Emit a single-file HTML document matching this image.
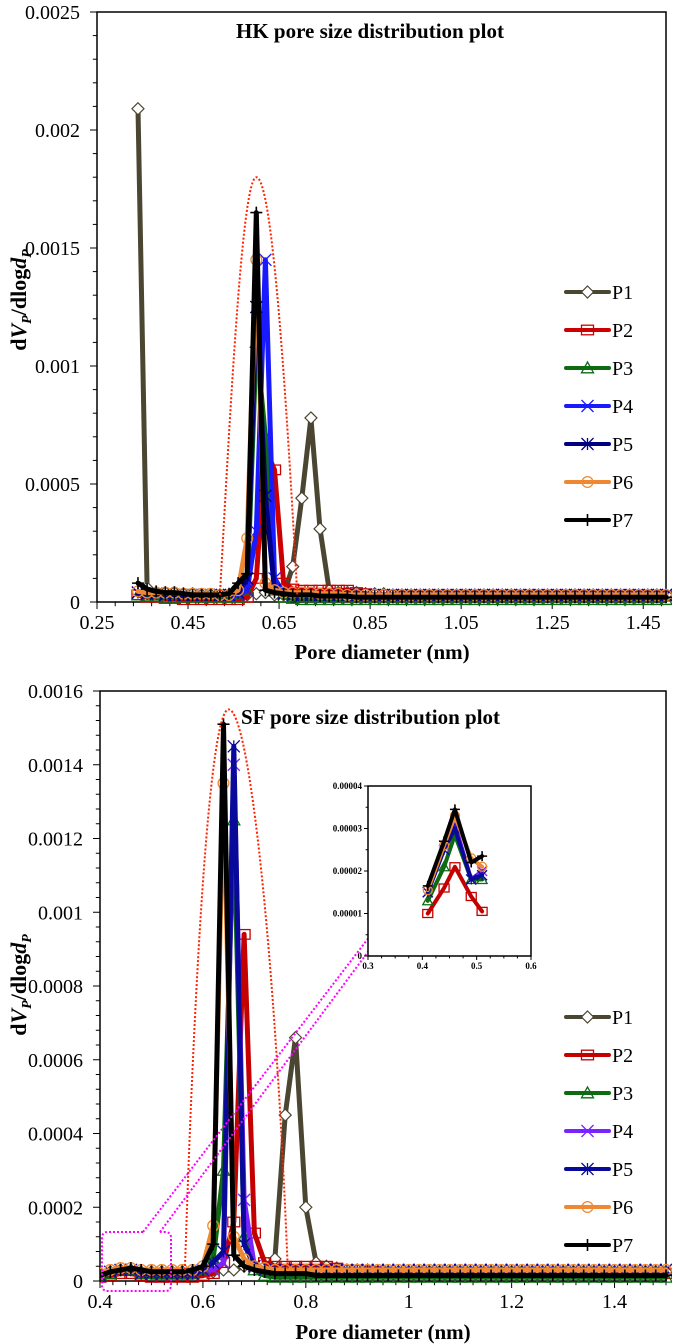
<!DOCTYPE html>
<html><head><meta charset="utf-8">
<style>
html,body{margin:0;padding:0;background:#fff;}
svg{display:block;font-family:"Liberation Serif",serif;}
</style></head>
<body>
<svg id="fig" width="675" height="1344" viewBox="0 0 675 1344" xmlns="http://www.w3.org/2000/svg"></svg>
<script>
// ===== Top chart (HK) data, y values in units of 1e-4 =====
const hkX = [0.34,0.36,0.38,0.40,0.42,0.44,0.46,0.48,0.50,0.52,0.54,0.56,0.58,0.60,0.62,0.64,0.66,0.68,0.70,0.72,0.74,0.76,0.78,0.80,0.82,0.84,0.86,0.88,0.90,0.92,0.94,0.96,0.98,1.00,1.02,1.04,1.06,1.08,1.10,1.12,1.14,1.16,1.18,1.20,1.22,1.24,1.26,1.28,1.30,1.32,1.34,1.36,1.38,1.40,1.42,1.44,1.46,1.48,1.50];
const hkP1 = [20.9,0.6,0.4,0.4,0.4,0.35,0.35,0.3,0.3,0.3,0.3,0.3,0.3,0.35,0.4,0.3,0.3,1.5,4.4,7.8,3.1,0.5,0.4,0.4,0.4,0.35,0.35,0.35,0.3,0.3,0.3,0.3,0.3,0.3,0.3,0.3,0.3,0.3,0.3,0.3,0.3,0.3,0.3,0.3,0.3,0.3,0.3,0.3,0.3,0.3,0.3,0.3,0.3,0.3,0.3,0.3,0.3,0.3,0.3];
const hkP2 = [0.3,0.2,0.2,0.15,0.15,0.1,0.1,0.1,0.1,0.1,0.1,0.1,0.2,1.0,6.5,5.6,0.8,0.55,0.5,0.5,0.5,0.5,0.5,0.5,0.4,0.35,0.3,0.3,0.3,0.25,0.25,0.25,0.25,0.25,0.25,0.25,0.25,0.25,0.25,0.25,0.25,0.25,0.25,0.25,0.25,0.25,0.25,0.25,0.25,0.25,0.25,0.25,0.25,0.25,0.25,0.25,0.25,0.25,0.25];
const hkP3 = [0.3,0.25,0.25,0.2,0.2,0.2,0.2,0.2,0.2,0.2,0.2,0.2,0.5,11.0,7.0,0.5,0.2,0.15,0.1,0.1,0.1,0.1,0.1,0.1,0.1,0.1,0.1,0.1,0.1,0.1,0.1,0.1,0.1,0.1,0.1,0.1,0.1,0.1,0.1,0.1,0.1,0.1,0.1,0.1,0.1,0.1,0.1,0.1,0.1,0.1,0.1,0.1,0.1,0.1,0.1,0.1,0.1,0.1,0.1];
const hkP4 = [0.4,0.35,0.35,0.3,0.3,0.3,0.3,0.3,0.3,0.3,0.3,0.3,0.5,3.0,14.5,1.0,0.4,0.3,0.3,0.3,0.3,0.3,0.3,0.3,0.3,0.3,0.3,0.3,0.3,0.3,0.3,0.3,0.3,0.3,0.3,0.3,0.3,0.3,0.3,0.3,0.3,0.3,0.3,0.3,0.3,0.3,0.3,0.3,0.3,0.3,0.3,0.3,0.3,0.3,0.3,0.3,0.3,0.3,0.3];
const hkP5 = [0.4,0.35,0.35,0.3,0.3,0.3,0.3,0.3,0.3,0.3,0.3,0.4,1.0,12.5,4.5,0.5,0.35,0.3,0.3,0.3,0.3,0.3,0.3,0.3,0.3,0.3,0.3,0.3,0.3,0.3,0.3,0.3,0.3,0.3,0.3,0.3,0.3,0.3,0.3,0.3,0.3,0.3,0.3,0.3,0.3,0.3,0.3,0.3,0.3,0.3,0.3,0.3,0.3,0.3,0.3,0.3,0.3,0.3,0.3];
const hkP6 = [0.45,0.4,0.4,0.4,0.4,0.35,0.35,0.35,0.35,0.3,0.3,0.5,2.7,14.5,0.8,0.5,0.4,0.4,0.4,0.4,0.35,0.35,0.35,0.3,0.3,0.3,0.3,0.3,0.3,0.3,0.3,0.3,0.3,0.3,0.3,0.3,0.3,0.3,0.3,0.3,0.3,0.3,0.3,0.3,0.3,0.3,0.3,0.3,0.3,0.3,0.3,0.3,0.3,0.3,0.3,0.3,0.3,0.3,0.3];
const hkP7 = [0.8,0.55,0.45,0.4,0.4,0.35,0.3,0.3,0.3,0.3,0.35,0.8,1.2,16.5,0.5,0.4,0.35,0.3,0.3,0.3,0.25,0.25,0.25,0.25,0.2,0.2,0.2,0.2,0.2,0.2,0.2,0.2,0.2,0.2,0.2,0.2,0.2,0.2,0.2,0.2,0.2,0.2,0.2,0.2,0.2,0.2,0.2,0.2,0.2,0.2,0.2,0.2,0.2,0.2,0.2,0.2,0.2,0.2,0.2];
const hkYTicks = ["0","0.0005","0.001","0.0015","0.002","0.0025"];
const hkXTicks = ["0.25","0.45","0.65","0.85","1.05","1.25","1.45"];

// ===== Bottom chart (SF) data, y values in units of 1e-4 =====
const sfX = [0.40,0.42,0.44,0.46,0.48,0.50,0.52,0.54,0.56,0.58,0.60,0.62,0.64,0.66,0.68,0.70,0.72,0.74,0.76,0.78,0.80,0.82,0.84,0.86,0.88,0.90,0.92,0.94,0.96,0.98,1.00,1.02,1.04,1.06,1.08,1.10,1.12,1.14,1.16,1.18,1.20,1.22,1.24,1.26,1.28,1.30,1.32,1.34,1.36,1.38,1.40,1.42,1.44,1.46,1.48,1.50];
const sfP1 = [0.2,0.25,0.3,0.3,0.25,0.25,0.25,0.25,0.25,0.25,0.25,0.25,0.3,0.3,0.4,0.4,0.4,0.6,4.5,6.6,2.0,0.5,0.4,0.35,0.3,0.3,0.3,0.25,0.25,0.25,0.25,0.25,0.25,0.25,0.25,0.25,0.25,0.25,0.25,0.25,0.25,0.25,0.25,0.25,0.25,0.25,0.25,0.25,0.25,0.25,0.25,0.25,0.25,0.25,0.25,0.25];
const sfP2 = [0.1,0.15,0.2,0.2,0.15,0.1,0.1,0.1,0.1,0.1,0.15,0.2,0.5,1.6,9.4,1.3,0.5,0.4,0.4,0.4,0.4,0.4,0.4,0.35,0.3,0.3,0.25,0.25,0.2,0.2,0.2,0.2,0.2,0.2,0.2,0.2,0.2,0.2,0.2,0.2,0.2,0.2,0.2,0.2,0.2,0.2,0.2,0.2,0.2,0.2,0.2,0.2,0.2,0.2,0.2,0.2];
const sfP3 = [0.15,0.2,0.28,0.3,0.2,0.2,0.2,0.2,0.2,0.2,0.3,0.6,3.0,12.5,1.2,0.3,0.15,0.1,0.1,0.1,0.1,0.1,0.1,0.1,0.1,0.1,0.1,0.1,0.1,0.1,0.1,0.1,0.1,0.1,0.1,0.1,0.1,0.1,0.1,0.1,0.1,0.1,0.1,0.1,0.1,0.1,0.1,0.1,0.1,0.1,0.1,0.1,0.1,0.1,0.1,0.1];
const sfP4 = [0.15,0.25,0.3,0.3,0.2,0.2,0.2,0.2,0.2,0.2,0.3,0.3,0.5,14.0,2.2,0.4,0.3,0.3,0.3,0.3,0.3,0.3,0.3,0.3,0.3,0.3,0.3,0.3,0.3,0.3,0.3,0.3,0.3,0.3,0.3,0.3,0.3,0.3,0.3,0.3,0.3,0.3,0.3,0.3,0.3,0.3,0.3,0.3,0.3,0.3,0.3,0.3,0.3,0.3,0.3,0.3];
const sfP5 = [0.15,0.25,0.3,0.3,0.2,0.2,0.2,0.2,0.2,0.2,0.3,0.5,0.8,14.5,1.0,0.4,0.3,0.3,0.3,0.3,0.3,0.3,0.3,0.3,0.3,0.3,0.3,0.3,0.3,0.3,0.3,0.3,0.3,0.3,0.3,0.3,0.3,0.3,0.3,0.3,0.3,0.3,0.3,0.3,0.3,0.3,0.3,0.3,0.3,0.3,0.3,0.3,0.3,0.3,0.3,0.3];
const sfP6 = [0.2,0.3,0.35,0.35,0.3,0.3,0.3,0.3,0.3,0.3,0.4,1.5,13.5,1.2,0.6,0.4,0.35,0.3,0.3,0.3,0.3,0.3,0.3,0.3,0.3,0.3,0.3,0.3,0.3,0.3,0.3,0.3,0.3,0.3,0.3,0.3,0.3,0.3,0.3,0.3,0.3,0.3,0.3,0.3,0.3,0.3,0.3,0.3,0.3,0.3,0.3,0.3,0.3,0.3,0.3,0.3];
const sfP7 = [0.15,0.25,0.3,0.35,0.3,0.25,0.25,0.25,0.25,0.3,0.4,1.0,15.1,0.7,0.4,0.3,0.25,0.2,0.2,0.2,0.2,0.15,0.15,0.15,0.15,0.15,0.15,0.15,0.15,0.15,0.15,0.15,0.15,0.15,0.15,0.15,0.15,0.15,0.15,0.15,0.15,0.15,0.15,0.15,0.15,0.15,0.15,0.15,0.15,0.15,0.15,0.15,0.15,0.15,0.15,0.15];
const sfYTicks = ["0","0.0002","0.0004","0.0006","0.0008","0.001","0.0012","0.0014","0.0016"];
const sfXTicks = ["0.4","0.6","0.8","1","1.2","1.4"];

// ===== Inset data, y values in units of 1e-5 =====
const inX = [0.41,0.44,0.46,0.49,0.51];
const inP2 = [1.0,1.6,2.1,1.4,1.05];
const inP3 = [1.3,2.1,2.85,1.8,1.8];
const inP4 = [1.5,2.6,3.1,1.8,2.0];
const inP5 = [1.5,2.5,3.0,1.8,1.9];
const inP6 = [1.55,2.6,3.3,2.3,2.1];
const inP7 = [1.65,2.7,3.45,2.2,2.35];
const inYTicks = ["0","0.00001","0.00002","0.00003","0.00004"];
const inXTicks = ["0.3","0.4","0.5","0.6"];

const NS="http://www.w3.org/2000/svg";
const svgRoot=document.getElementById('fig');
function mk(tag,attrs,parent){const e=document.createElementNS(NS,tag);for(const k in attrs)e.setAttribute(k,attrs[k]);(parent||svgRoot).appendChild(e);return e;}

const styles=[
 {name:'P1',color:'#4b4632',marker:'diamond'},
 {name:'P2',color:'#cc0000',marker:'square'},
 {name:'P3',color:'#0d6b12',marker:'triangle'},
 {name:'P4',color:'#1a1aff',marker:'x'},
 {name:'P5',color:'#000080',marker:'star'},
 {name:'P6',color:'#ee8833',marker:'circle'},
 {name:'P7',color:'#000000',marker:'plus'}
];
const styles2=styles.map(s=>Object.assign({},s));
styles2[1].color='#c40000';styles2[3].color='#7a22ff';styles2[4].color='#0a0a9a';

function marker(g,type,x,y,c,r){
  let e;
  if(type==='diamond') e=mk('path',{d:`M${x} ${y-r}L${x+r} ${y}L${x} ${y+r}L${x-r} ${y}Z`,fill:'#fff',stroke:c,'stroke-width':1.2},g);
  else if(type==='square') e=mk('rect',{x:x-r,y:y-r*0.8,width:2*r,height:1.6*r,fill:'none',stroke:c,'stroke-width':1.3},g);
  else if(type==='triangle') e=mk('path',{d:`M${x} ${y-r}L${x+r} ${y+r*0.8}L${x-r} ${y+r*0.8}Z`,fill:'none',stroke:c,'stroke-width':1.3},g);
  else if(type==='x') e=mk('path',{d:`M${x-r} ${y-r}L${x+r} ${y+r}M${x-r} ${y+r}L${x+r} ${y-r}`,stroke:c,'stroke-width':1.3,fill:'none'},g);
  else if(type==='star') e=mk('path',{d:`M${x-r} ${y-r}L${x+r} ${y+r}M${x-r} ${y+r}L${x+r} ${y-r}M${x} ${y-r}L${x} ${y+r}`,stroke:c,'stroke-width':1.3,fill:'none'},g);
  else if(type==='circle') e=mk('circle',{cx:x,cy:y,r:r*0.9,fill:'none',stroke:c,'stroke-width':1.3},g);
  else e=mk('path',{d:`M${x-r} ${y}L${x+r} ${y}M${x} ${y-r}L${x} ${y+r}`,stroke:c,'stroke-width':1.6,fill:'none'},g);
  
  
}

function drawChart(cfg){
  const g=mk('g',{});
  
  
  const X=v=>cfg.x0+(v-cfg.xmin)/(cfg.xmax-cfg.xmin)*(cfg.x1-cfg.x0);
  const Y=v=>cfg.y0-(v-cfg.ymin)/(cfg.ymax-cfg.ymin)*(cfg.y0-cfg.y1);
  const fr=mk('rect',{x:cfg.x0,y:cfg.y1,width:cfg.x1-cfg.x0,height:cfg.y0-cfg.y1,fill:'#fff',stroke:'#000','stroke-width':cfg.fw||1.5},g);
  
  const ny=cfg.yTicks.length-1;
  for(let i=0;i<=ny;i++){
    const v=cfg.ymin+i*(cfg.ymax-cfg.ymin)/ny, yy=Y(v);
    mk('line',{x1:cfg.x0-cfg.tl,y1:yy,x2:cfg.x0,y2:yy,stroke:'#000','stroke-width':1},g);
    if(i<ny) for(let k=1;k<cfg.yMinor;k++){const ym=Y(v+k*(cfg.ymax-cfg.ymin)/ny/cfg.yMinor);mk('line',{x1:cfg.x0-cfg.tl*0.6,y1:ym,x2:cfg.x0,y2:ym,stroke:'#000','stroke-width':1},g);}
    const t=mk('text',{x:cfg.x0-cfg.ygap,y:yy+cfg.fs*0.35,'text-anchor':'end','font-size':cfg.fs,'font-weight':cfg.bold?'bold':'normal'},g);
    t.textContent=cfg.yTicks[i];
    
  }
  for(let i=0;i<cfg.xTicks.length;i++){
    const v=parseFloat(cfg.xTicks[i]), xx=X(v);
    mk('line',{x1:xx,y1:cfg.y0,x2:xx,y2:cfg.y0+cfg.tl,stroke:'#000','stroke-width':1},g);
    for(let k=1;k<cfg.xMinor;k++){const xm=X(v+k*cfg.xStep/cfg.xMinor);if(xm<=cfg.x1+0.5)mk('line',{x1:xm,y1:cfg.y0,x2:xm,y2:cfg.y0+cfg.tl*0.6,stroke:'#000','stroke-width':1},g);}
    const t=mk('text',{x:xx,y:cfg.y0+cfg.tl+cfg.fs*1.0,'text-anchor':'middle','font-size':cfg.fs,'font-weight':cfg.bold?'bold':'normal'},g);
    t.textContent=cfg.xTicks[i];
    
  }
  const cid='clip-'+cfg.id;
  const cp=mk('clipPath',{id:cid},g);mk('rect',{x:cfg.x0,y:cfg.y1-20,width:cfg.x1-cfg.x0+6,height:cfg.y0-cfg.y1+30},cp);
  const sg=mk('g',{'clip-path':`url(#${cid})`},g);
  cfg.series.forEach(s=>{
    const sgi=mk('g',{},sg);
    
    
    const pts=s.y.map((v,i)=>[X(cfg.xs[i]),Y(v*cfg.scale)]);
    const d=pts.map((p,i)=>(i?'L':'M')+p[0].toFixed(1)+' '+p[1].toFixed(1)).join('');
    const pl=mk('path',{d:d,fill:'none',stroke:s.color,'stroke-width':cfg.lw,'stroke-linejoin':'round','stroke-linecap':'round'},sgi);
    
    
    pts.forEach(p=>marker(sgi,s.marker,p[0],p[1],s.color,cfg.mr));
  });
  return g;
}
function mkS(st,arrs){return st.map((s,i)=>arrs[i]?Object.assign({},s,{y:arrs[i]}):null).filter(Boolean);}

const chartHK=drawChart({id:'hk',x0:97,x1:666,y0:602,y1:12,xmin:0.25,xmax:1.5,ymin:0,ymax:0.0025,
  yTicks:hkYTicks,xTicks:hkXTicks,xStep:0.2,xMinor:5,yMinor:5,tl:7,ygap:17,fs:20,lw:5,mr:6,scale:1e-4,
  xs:hkX,series:mkS(styles,[hkP1,hkP2,hkP3,hkP4,hkP5,hkP6,hkP7])});
(function(){const X=v=>97+(v-0.25)/1.25*569,Y=v=>602-v/0.0025*590;
 const e=mk('path',{d:`M${X(0.52)} ${Y(0.00003)}C${X(0.545)} ${Y(0.0009)} ${X(0.57)} ${Y(0.0018)} ${X(0.60)} ${Y(0.0018)}C${X(0.635)} ${Y(0.0018)} ${X(0.665)} ${Y(0.0009)} ${X(0.69)} ${Y(0.00003)}`,fill:'none',stroke:'#ff2200','stroke-width':2,'stroke-dasharray':'2 2'});
 })();

const chartSF=drawChart({id:'sf',x0:100,x1:666,y0:1281,y1:691,xmin:0.4,xmax:1.5,ymin:0,ymax:0.0016,
  yTicks:sfYTicks,xTicks:sfXTicks,xStep:0.2,xMinor:8,yMinor:5,tl:7,ygap:17,fs:20,lw:5,mr:6,scale:1e-4,
  xs:sfX,series:mkS(styles2,[sfP1,sfP2,sfP3,sfP4,sfP5,sfP6,sfP7])});
(function(){const X=v=>100+(v-0.4)/1.1*566,Y=v=>1281-v/0.0016*590;
 const e=mk('path',{d:`M${X(0.565)} ${Y(0.00003)}C${X(0.585)} ${Y(0.0009)} ${X(0.615)} ${Y(0.00155)} ${X(0.65)} ${Y(0.00155)}C${X(0.69)} ${Y(0.00155)} ${X(0.74)} ${Y(0.0009)} ${X(0.765)} ${Y(0.00003)}`,fill:'none',stroke:'#ff2200','stroke-width':2,'stroke-dasharray':'2 2'});
 
 const r=mk('path',{d:'M143 1232L108 1232Q102 1232 102 1238L102 1285Q102 1291 108 1291L165 1291Q171 1291 171 1285L171 1238Q171 1232 165 1232L160 1232',fill:'none',stroke:'#ff00ff','stroke-width':2,'stroke-dasharray':'2 2'});
 
 const l1=mk('path',{d:'M143 1232L403 893',fill:'none',stroke:'#ff00ff','stroke-width':2,'stroke-dasharray':'2 2'});
 
 const l2=mk('path',{d:'M160 1232L408 898',fill:'none',stroke:'#ff00ff','stroke-width':2,'stroke-dasharray':'2 2'});
 })();

const chartInset=drawChart({id:'inset',x0:368,x1:531,y0:956,y1:786,xmin:0.3,xmax:0.6,ymin:0,ymax:0.00004,
  yTicks:inYTicks,xTicks:inXTicks,xStep:0.1,xMinor:4,yMinor:2,tl:4,ygap:6,fs:9,bold:true,lw:4,mr:5,scale:1e-5,fw:1.5,
  xs:inX,series:mkS(styles2,[null,inP2,inP3,inP4,inP5,inP6,inP7])});

function txt(x,y,s,attrs,name){const t=mk('text',Object.assign({x:x,y:y},attrs));t.textContent=s;return t;}
txt(236,38,'HK pore size distribution plot',{'font-size':21,'font-weight':'bold'},'chart-title-hk');
txt(241,724,'SF pore size distribution plot',{'font-size':21,'font-weight':'bold'},'chart-title-sf');
txt(382,659,'Pore diameter (nm)',{'font-size':21,'font-weight':'bold','text-anchor':'middle'},'x-axis-title-hk');
txt(383,1339,'Pore diameter (nm)',{'font-size':21,'font-weight':'bold','text-anchor':'middle'},'x-axis-title-sf');
function ytitle(cx,cy,name){
  const t=mk('text',{x:0,y:0,'font-size':22,'font-weight':'bold','text-anchor':'middle',transform:`translate(${cx},${cy}) rotate(-90)`});
  
  const parts=[['d',{}],['V',{'font-style':'italic'}],['P',{'font-style':'italic','font-size':14,dy:5}],['/dlog',{dy:-5}],['d',{'font-style':'italic'}],['P',{'font-style':'italic','font-size':14,dy:5}]];
  parts.forEach(p=>{const ts=mk('tspan',p[1],t);ts.textContent=p[0];});
}
ytitle(26,300,'y-axis-title-hk');
ytitle(26,985,'y-axis-title-sf');

function legend(st,y0,dy,name){
  const g=mk('g',{});
  st.forEach((s,i)=>{
    const y=y0+i*dy;
    const e=mk('g',{},g);
    mk('line',{x1:566,y1:y,x2:609,y2:y,stroke:s.color,'stroke-width':4,'stroke-linecap':'round'},e);
    marker(e,s.marker,587.5,y,s.color,6);
    const t=mk('text',{x:612,y:y+7,'font-size':20},e);t.textContent=s.name;
  });
}
legend(styles,292,38,'legend-hk');
legend(styles2,1017,38,'legend-sf');
</script>
</body></html>
